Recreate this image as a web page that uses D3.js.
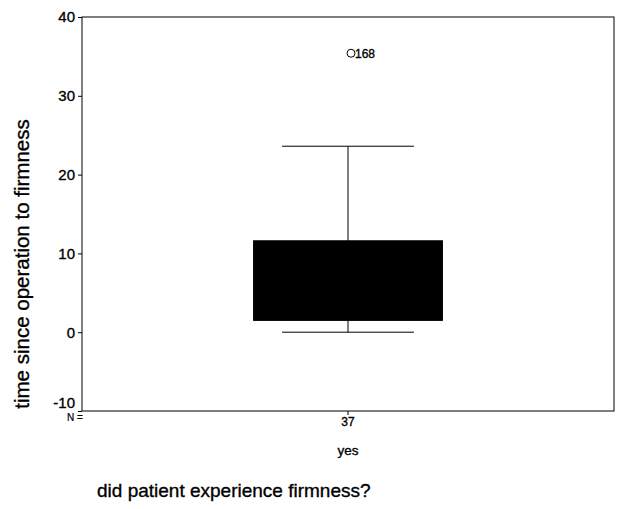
<!DOCTYPE html>
<html><head><meta charset="utf-8">
<script src="https://cdn.jsdelivr.net/npm/d3@7"></script>
<style>body{margin:0;background:#fff}svg{display:block}text{font-family:"Liberation Sans",Arial,sans-serif;fill:#000;stroke:#000;stroke-width:0.35px}</style>
</head><body>
<script>
const categories = ["yes"];
const counts = [37];
const whiskerLow = [0];
const q1 = [1.5];
const median = [5];
const q3 = [11.6];
const whiskerHigh = [23.6];
const outliers = [[{value: 35.4, label: "168"}]];
const yTicks = [-10, 0, 10, 20, 30, 40];

const W = 617, H = 509;
const m = {left: 82, right: 3, top: 17, bottom: 98};
const svg = d3.select("body").append("svg").attr("width", W).attr("height", H);

const y = d3.scaleLinear().domain([-10, 40]).range([H - m.bottom, m.top]);
const x = d3.scaleBand().domain(categories).range([m.left, W - m.right]).padding(0);

// frame
svg.append("rect").attr("x", m.left).attr("y", m.top)
  .attr("width", W - m.right - m.left).attr("height", H - m.bottom - m.top)
  .attr("fill", "none").attr("stroke", "#000").attr("stroke-width", 1);

const yAxis = svg.append("g").attr("transform", `translate(${m.left},0)`)
  .call(d3.axisLeft(y).tickValues(yTicks).tickSize(4).tickPadding(3).tickFormat(d => String(d)));
yAxis.select(".domain").remove();
yAxis.selectAll("text").style("font-size", "15px")
  .attr("dy", d => d === -10 ? "-0.25em" : "0.32em");

const xAxis = svg.append("g").attr("transform", `translate(0,${H - m.bottom})`)
  .call(d3.axisBottom(x).tickSize(4).tickFormat((d, i) => counts[i]).tickPadding(2));
xAxis.select(".domain").remove();
xAxis.selectAll("text").style("font-size", "12px");

svg.append("text").attr("x", 67).attr("y", 421).style("font-size", "10px").style("stroke-width", "0.2px").text("N =");

svg.selectAll(".cat").data(categories).enter().append("text")
  .attr("x", d => x(d) + x.bandwidth() / 2).attr("y", 455)
  .attr("text-anchor", "middle").style("font-size", "13.5px").text(d => d);

const boxW = x.bandwidth() * 0.355;
const capW = x.bandwidth() * 0.248;
categories.forEach((c, i) => {
  const cx = x(c) + x.bandwidth() / 2;
  const g = svg.append("g");
  g.append("line").attr("x1", cx).attr("x2", cx).attr("y1", y(q3[i])).attr("y2", y(whiskerHigh[i])).attr("stroke", "#000");
  g.append("line").attr("x1", cx).attr("x2", cx).attr("y1", y(q1[i])).attr("y2", y(whiskerLow[i])).attr("stroke", "#000");
  g.append("line").attr("x1", cx - capW / 2).attr("x2", cx + capW / 2).attr("y1", y(whiskerHigh[i])).attr("y2", y(whiskerHigh[i])).attr("stroke", "#000");
  g.append("line").attr("x1", cx - capW / 2).attr("x2", cx + capW / 2).attr("y1", y(whiskerLow[i])).attr("y2", y(whiskerLow[i])).attr("stroke", "#000");
  g.append("rect").attr("x", cx - boxW / 2).attr("width", boxW)
    .attr("y", y(q3[i])).attr("height", y(q1[i]) - y(q3[i])).attr("fill", "#000").attr("stroke", "#000");
  g.append("line").attr("x1", cx - boxW / 2).attr("x2", cx + boxW / 2).attr("y1", y(median[i])).attr("y2", y(median[i])).attr("stroke", "#000").attr("stroke-width", 2);
  outliers[i].forEach(o => {
    g.append("circle").attr("cx", cx + 3).attr("cy", y(o.value)).attr("r", 4).attr("fill", "none").attr("stroke", "#000");
    g.append("text").attr("x", cx + 7).attr("y", y(o.value) + 4.5).style("font-size", "12px").text(o.label);
  });
});

svg.append("text").attr("transform", `translate(29,${264}) rotate(-90)`)
  .attr("text-anchor", "middle").style("font-size", "20.5px").text("time since operation to firmness");

svg.append("text").attr("x", 97).attr("y", 497).style("font-size", "19px").text("did patient experience firmness?");
</script>
</body></html>
